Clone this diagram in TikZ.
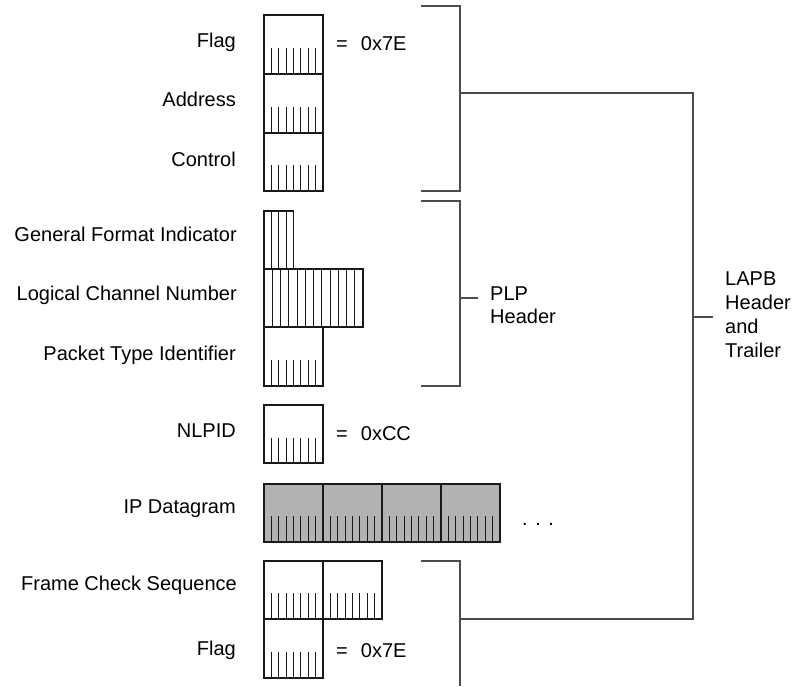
\documentclass[tikz,border=0pt]{standalone}
\usepackage{fontspec}
\setmainfont{Liberation Sans}
\newcommand{\hatchlines}[5]{\foreach \k in {1,...,#3}{\draw[hatch] ({#1+\k*#2},#4) -- ({#1+\k*#2},#5);}}
\begin{document}
\begin{tikzpicture}[x=1pt,y=-1pt,
  cell/.style={draw=black!90,line width=1.3pt,anchor=north west,inner sep=0pt,outer sep=0pt},
  hatch/.style={draw=black!90,line width=1pt},
  brk/.style={draw=black!70,line width=1.1pt},
  lbl/.style={anchor=base east,inner sep=0pt,font=\fontsize{20}{24}\selectfont},
  txt/.style={anchor=base west,inner sep=0pt,font=\fontsize{20}{24}\selectfont}]
\useasboundingbox (0,0) rectangle (793,686);

% ---- cells ----
\node[cell,minimum width=59pt,minimum height=59pt] (flagA) at (264,15) {};
\node[cell,minimum width=59pt,minimum height=59pt] (addr) at (264,74) {};
\node[cell,minimum width=59pt,minimum height=58pt] (ctrl) at (264,133) {};
\node[cell,minimum width=29.5pt,minimum height=58pt] (gfi) at (264,211) {};
\node[cell,minimum width=99pt,minimum height=58pt] (lcn) at (264,269) {};
\node[cell,minimum width=59pt,minimum height=59pt] (pti) at (264,327) {};
\node[cell,minimum width=59pt,minimum height=58pt] (nlpid) at (264,405) {};
\foreach \i in {0,1,2,3}{
  \node[cell,fill=black!30,minimum width=59pt,minimum height=58pt] (ip\i) at ({264+59*\i},484) {};
}
\node[cell,minimum width=59pt,minimum height=58pt] (fcsA) at (264,561) {};
\node[cell,minimum width=59pt,minimum height=58pt] (fcsB) at (323,561) {};
\node[cell,minimum width=59pt,minimum height=59pt] (flagB) at (264,619) {};

% ---- bit hatching ----
\hatchlines{264}{7.375}{7}{48}{74}
\hatchlines{264}{7.375}{7}{107}{133}
\hatchlines{264}{7.375}{7}{165}{191}
\hatchlines{264}{7.375}{3}{211}{269}
\hatchlines{264}{8.25}{11}{269}{327}
\hatchlines{264}{7.375}{7}{360}{386}
\hatchlines{264}{7.375}{7}{438}{463}
\foreach \i in {0,1,2,3}{\hatchlines{264+59*\i}{7.375}{7}{516}{542}}
\hatchlines{264}{7.375}{7}{593}{619}
\hatchlines{323}{7.375}{7}{593}{619}
\hatchlines{264}{7.375}{7}{652}{678}

% ---- field labels ----
\node[lbl] (lflagA) at (236,47) {Flag};
\node[lbl] (laddr) at (236,106) {Address};
\node[lbl] (lctrl) at (236,166) {Control};
\node[lbl] (lgfi) at (237,241) {General Format Indicator};
\node[lbl] (llcn) at (237,300) {Logical Channel Number};
\node[lbl] (lpti) at (236,360) {Packet Type Identifier};
\node[lbl] (lnlpid) at (236,437) {NLPID};
\node[lbl] (lip) at (236,513) {IP Datagram};
\node[lbl] (lfcs) at (237,590) {Frame Check Sequence};
\node[lbl] (lflagB) at (236,655) {Flag};

% ---- values ----
\node[txt] (vflagA) at (336,50) {=\hspace{13pt}0x7E};
\node[txt] (vnlpid) at (336,440) {=\hspace{13pt}0xCC};
\node[txt] (vflagB) at (336,657) {=\hspace{13pt}0x7E};
\node[txt] (dots) at (522,525) {.\hspace{7.5pt}.\hspace{7.5pt}.};

% ---- brackets ----
\coordinate (b1t) at (421,6);   \coordinate (b1b) at (421,191);
\coordinate (b2t) at (421,201); \coordinate (b2b) at (421,386);
\coordinate (b3t) at (421,561); \coordinate (b3e) at (460,686);
\draw[brk] (b1t) -- (460,6) -- (460,191) -- (b1b);
\draw[brk] (b2t) -- (460,201) -- (460,386) -- (b2b);
\draw[brk] (b3t) -- (460,561) -- (b3e);

\node[txt] (plp1) at (490,300) {PLP};
\node[txt] (plp2) at (490,323) {Header};
\coordinate (plptick) at (460,298);
\draw[brk] (plptick) -- (478,298);

\coordinate (lapbA) at (460,93);
\coordinate (lapbB) at (460,619);
\draw[brk] (lapbA) -- (693,93) -- (693,619) -- (lapbB);
\coordinate (lapbtick) at (693,317);
\draw[brk] (lapbtick) -- (713,317);

\node[txt] (lapb1) at (725,285) {LAPB};
\node[txt] (lapb2) at (725,309) {Header};
\node[txt] (lapb3) at (725,333) {and};
\node[txt] (lapb4) at (725,357) {Trailer};
\end{tikzpicture}
\end{document}
